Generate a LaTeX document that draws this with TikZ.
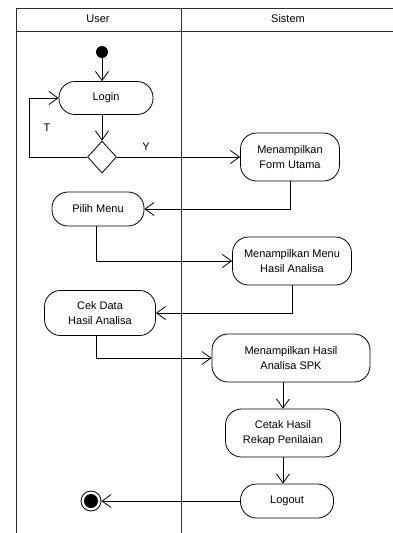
\documentclass[tikz,border=0pt]{standalone}
\usepackage{fontspec}
\setmainfont{Liberation Sans}
\usetikzlibrary{arrows.meta,positioning,shapes.geometric}
\definecolor{LaneGray}{RGB}{45,45,45}
\tikzset{
  act/.style={draw=black, line width=0.8pt, rounded corners=16pt, align=center,
    fill=white, font=\fontsize{11}{15}\selectfont, inner sep=2pt},
  decision/.style={diamond, draw=black, line width=0.8pt, fill=white,
    minimum width=29pt, minimum height=32pt, inner sep=0pt},
  startnode/.style={circle, fill=black, minimum size=12pt, inner sep=0pt},
  endnode/.style={circle, draw=black, line width=0.8pt, fill=white,
    minimum size=20pt, inner sep=0pt,
    path picture={\fill[black] (path picture bounding box.center) circle (7pt);}},
  flow/.style={-{Straight Barb[length=9pt,width=13pt]}, line width=0.8pt, draw=black},
  lane/.style={draw=LaneGray, line width=0.8pt},
  lanehead/.style={font=\fontsize{11}{13}\selectfont},
  guard/.style={font=\fontsize{11}{13}\selectfont}
}
\begin{document}
\begin{tikzpicture}[x=1pt, y=-1pt]
  \useasboundingbox (0,0) rectangle (393,533);
  \draw[lane] (16,533) |- (393,8);
  \draw[lane] (16,31) -- (393,31);
  \draw[lane] (181,8) -- (181,533);
  \node[lanehead] (user) at (98,19) {User};
  \node[lanehead] (sistem) at (288,19) {Sistem};

  \node[startnode] (start) at (102,52) {};
  \node[act, minimum width=94pt, minimum height=33pt] (login) at (106,98) {Login};
  \node[decision] (dec) at (102,157) {};
  \node[act, minimum width=99pt, minimum height=48pt] (form) at (290,157) {Menampilkan\\Form Utama};
  \node[act, minimum width=92pt, minimum height=34pt] (pilih) at (98,209) {Pilih Menu};
  \node[act, minimum width=119pt, minimum height=48pt] (menu) at (292,261) {Menampilkan Menu\\Hasil Analisa};
  \node[act, minimum width=111pt, minimum height=45pt] (cek) at (100,313) {Cek Data\\Hasil Analisa};
  \node[act, minimum width=158pt, minimum height=48pt] (spk) at (291,358) {Menampilkan Hasil\\Analisa SPK};
  \node[act, minimum width=115pt, minimum height=48pt] (cetak) at (283,433) {Cetak Hasil\\Rekap Penilaian};
  \node[act, minimum width=93pt, minimum height=34pt] (logout) at (287,501) {Logout};
  \node[endnode] (end) at (91,501) {};

  \node[guard] (t) at (47,128) {T};
  \node[guard] (y) at (146,147) {Y};

  \draw[flow] (start) -- (start |- login.north);
  \draw[flow] (dec.north |- login.south) -- (dec.north);
  \draw[flow] (dec.west) -- ++(-58,0) |- (login.west);
  \draw[flow] (dec.east) -- (form.west);
  \draw[flow] (form.south) |- (pilih.east);
  \draw[flow] ([xshift=-2pt]pilih.south) |- (menu.west);
  \draw[flow] (menu.south) |- (cek.east);
  \draw[flow] ([xshift=-4pt]cek.south) |- (spk.west);
  \draw[flow] (spk.south -| cetak.north) -- (cetak.north);
  \draw[flow] (cetak.south) -- (cetak.south |- logout.north);
  \draw[flow] (logout.west) -- (end.east);
\end{tikzpicture}
\end{document}
